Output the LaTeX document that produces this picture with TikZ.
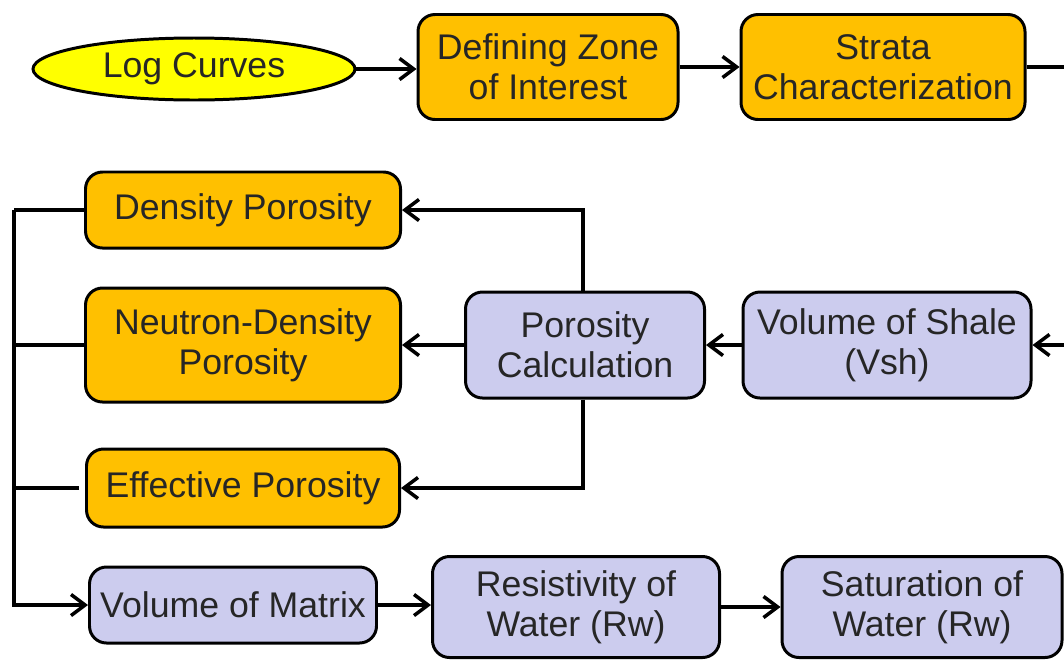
\documentclass[tikz,border=0pt]{standalone}
\usepackage{fontspec}
\setmainfont{Liberation Sans}
\usetikzlibrary{shapes.geometric,arrows.meta}
\definecolor{orangebox}{HTML}{FFC000}
\definecolor{lavbox}{HTML}{CCCCEE}
\definecolor{yellowell}{HTML}{FFFF00}
\definecolor{txt}{HTML}{262626}
\begin{document}
\begin{tikzpicture}[x=0.02cm,y=-0.02cm,
  base/.style={draw=black, line width=1.7pt, rounded corners=0.34cm, align=center, text=txt,
    font=\fontsize{20.3}{22.7}\selectfont, inner sep=0pt},
  obox/.style={base, fill=orangebox},
  lbox/.style={base, fill=lavbox},
  conn/.style={line width=2pt, draw=black},
  arr/.style={conn, -{Straight Barb[length=8pt,width=12pt,line width=2pt]}}
]
\useasboundingbox (0,0) rectangle (1064,660);

\node[ellipse, draw=black, line width=1.7pt, fill=yellowell, text=txt, font=\fontsize{20.3}{22.7}\selectfont,
  minimum width=322*0.02cm, minimum height=62*0.02cm, inner sep=0pt] (log) at (194,69) {Log Curves};
\node[obox, minimum width=260*0.02cm, minimum height=105*0.02cm] (zone) at (548,67) {Defining Zone\\of Interest};
\node[obox, minimum width=284*0.02cm, minimum height=105*0.02cm] (strata) at (883,67) {Strata\\Characterization};
\coordinate (rt1) at (1064,67);

\node[obox, minimum width=315*0.02cm, minimum height=76*0.02cm] (dens) at (243,210) {Density Porosity};
\node[obox, minimum width=315*0.02cm, minimum height=114*0.02cm] (neut) at (243,345) {Neutron-Density\\Porosity};
\node[obox, minimum width=313*0.02cm, minimum height=78*0.02cm] (eff) at (243,488) {Effective Porosity};

\node[lbox, minimum width=239*0.02cm, minimum height=106*0.02cm] (pcalc) at (585,345) {Porosity\\Calculation};
\node[lbox, minimum width=288*0.02cm, minimum height=106*0.02cm] (vsh) at (887,345) {Volume of Shale\\(Vsh)};
\coordinate (rt2) at (1064,345);

\node[lbox, minimum width=287*0.02cm, minimum height=76*0.02cm] (vom) at (233,605) {Volume of Matrix};
\node[lbox, minimum width=287*0.02cm, minimum height=101*0.02cm] (row) at (576,607) {Resistivity of\\Water (Rw)};
\node[lbox, minimum width=280*0.02cm, minimum height=101*0.02cm] (sow) at (922,607) {Saturation of\\Water (Rw)};

\coordinate (bus) at (14,210);

% top row
\draw[arr] (log.east) -- (log.east -| zone.west);
\draw[arr] (zone.east) -- (strata.west);
\draw[conn] (strata.east) -- (rt1);

% middle
\draw[arr] (rt2) -- (vsh.east);
\draw[arr] (vsh.west) -- (pcalc.east);
\draw[arr] (pcalc.west) -- (neut.east);
\draw[arr] ([xshift=-2*0.02cm]pcalc.north) |- (dens.east);
\draw[arr] ([xshift=-2*0.02cm]pcalc.south) |- (eff.east);

% left bus
\draw[conn] (dens.west) -- (dens.west -| bus);
\draw[conn] (neut.west) -- (neut.west -| bus);
\draw[conn] ([xshift=-6*0.02cm]eff.west) -- (eff.west -| bus);
\draw[arr] (dens.west -| bus) |- (vom.west);

% bottom row
\draw[arr] (vom.east) -- (vom.east -| row.west);
\draw[arr] (row.east) -- (row.east -| sow.west);
\end{tikzpicture}
\end{document}
